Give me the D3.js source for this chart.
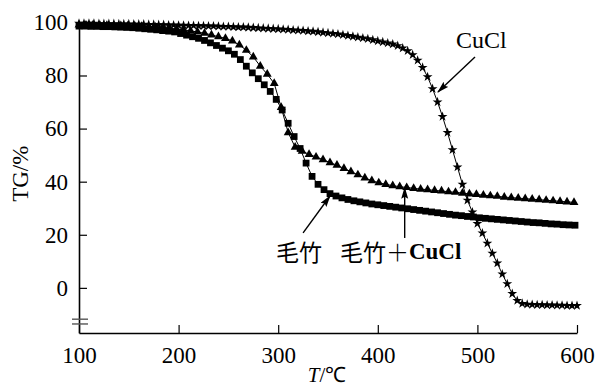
<!DOCTYPE html>
<html>
<head>
<meta charset="utf-8">
<script src="https://cdn.jsdelivr.net/npm/d3@7"></script>
<style>
  body { margin: 0; background: #fff; }
  svg { display: block; }
  text { font-family: 'Liberation Serif', 'Times New Roman', Times, serif; fill: #000; }
</style>
</head>
<body>
<svg id="chart" width="597" height="389"></svg>
<script>
// 毛竹 (squares), [T, TG]
const bambooData = [
  [100, 98.6], [106, 98.6], [112, 98.5], [118, 98.5], [124, 98.4], [130, 98.4],
  [136, 98.3], [142, 98.2], [148, 98.1], [154, 98.0], [160, 97.8], [166, 97.6],
  [172, 97.4], [178, 97.2], [184, 96.9], [190, 96.7], [196, 96.4], [202, 95.8],
  [208, 95.2], [214, 94.6], [220, 94.0], [226, 93.2], [232, 92.3], [238, 91.3],
  [244, 90.3], [250, 89.3], [256, 88.0], [262, 86.0], [268, 83.5], [274, 81.0],
  [280, 78.8], [286, 76.5], [292, 74.0], [298, 71.0], [304, 67.0], [310, 62.0],
  [316, 57.0], [322, 52.5], [328, 47.0], [334, 42.0], [340, 39.0], [346, 37.0],
  [352, 35.5], [358, 34.6], [364, 33.9], [370, 33.3], [376, 32.8], [382, 32.4],
  [388, 32.0], [394, 31.6], [400, 31.3], [406, 31.0], [412, 30.7], [418, 30.4],
  [424, 30.1], [430, 29.8], [436, 29.5], [442, 29.2], [448, 28.9], [454, 28.6],
  [460, 28.3], [466, 28.0], [472, 27.7], [478, 27.4], [484, 27.2], [490, 26.9],
  [496, 26.7], [502, 26.4], [508, 26.2], [514, 26.0], [520, 25.8], [526, 25.6],
  [532, 25.4], [538, 25.2], [544, 25.0], [550, 24.8], [556, 24.6], [562, 24.5],
  [568, 24.3], [574, 24.1], [580, 24.0], [586, 23.8], [592, 23.7], [598, 23.6]
]

// 毛竹+CuCl (triangles)
const mixData = [
  [100, 99.0], [107, 99.0], [114, 99.0], [121, 98.9], [128, 98.9], [135, 98.8],
  [142, 98.8], [149, 98.7], [156, 98.6], [163, 98.5], [170, 98.4], [177, 98.2],
  [184, 98.0], [191, 97.8], [198, 97.5], [205, 97.2], [212, 96.8], [219, 96.4],
  [226, 95.9], [233, 95.3], [240, 94.6], [247, 94.0], [254, 93.0], [261, 91.5],
  [268, 89.5], [275, 87.0], [282, 83.5], [289, 80.5], [296, 77.0], [303, 68.0],
  [310, 58.5], [317, 53.0], [324, 51.5], [331, 50.3], [338, 49.3], [345, 48.3],
  [352, 47.2], [359, 46.2], [366, 45.0], [373, 43.8], [380, 42.6], [387, 41.4],
  [394, 40.4], [401, 39.6], [408, 39.0], [415, 38.5], [422, 38.1], [429, 37.8],
  [436, 37.5], [443, 37.2], [450, 37.0], [457, 36.7], [464, 36.5], [471, 36.2],
  [478, 36.0], [485, 35.7], [492, 35.4], [499, 35.2], [506, 34.9], [513, 34.7],
  [520, 34.5], [527, 34.2], [534, 34.0], [541, 33.8], [548, 33.6], [555, 33.4],
  [562, 33.2], [569, 33.0], [576, 32.8], [583, 32.6], [590, 32.4], [597, 32.2]
]

// CuCl (stars)
const cuclData = [
  [100, 99.6], [105, 99.6], [110, 99.6], [115, 99.6], [120, 99.5], [125, 99.5],
  [130, 99.5], [135, 99.5], [140, 99.4], [145, 99.4], [150, 99.4], [155, 99.3],
  [160, 99.3], [165, 99.3], [170, 99.2], [175, 99.2], [180, 99.1], [185, 99.1],
  [190, 99.0], [195, 99.0], [200, 98.9], [205, 98.9], [210, 98.8], [215, 98.8],
  [220, 98.7], [225, 98.7], [230, 98.6], [235, 98.6], [240, 98.5], [245, 98.4],
  [250, 98.4], [255, 98.3], [260, 98.2], [265, 98.2], [270, 98.1], [275, 98.0],
  [280, 97.9], [285, 97.8], [290, 97.7], [295, 97.6], [300, 97.5], [305, 97.4],
  [310, 97.3], [315, 97.1], [320, 97.0], [325, 96.9], [330, 96.7], [335, 96.6],
  [340, 96.4], [345, 96.2], [350, 96.0], [355, 95.8], [360, 95.6], [365, 95.3],
  [370, 95.0], [375, 94.7], [380, 94.4], [385, 94.1], [390, 93.8], [395, 93.4],
  [400, 93.0], [405, 92.6], [410, 92.2], [415, 91.8], [420, 91.2], [425, 90.3],
  [430, 89.3], [435, 87.8], [440, 85.7], [445, 83.0], [450, 79.5], [455, 75.0],
  [460, 70.0], [465, 64.5], [470, 58.5], [475, 52.0], [480, 45.5], [485, 39.0],
  [490, 33.0], [495, 28.5], [500, 24.2], [505, 20.6], [510, 16.8], [515, 13.0],
  [520, 9.3], [525, 5.2], [530, 1.5], [535, -2.2], [540, -4.8], [545, -5.9],
  [550, -6.2], [555, -6.3], [560, -6.4], [565, -6.4], [570, -6.5], [575, -6.5],
  [580, -6.6], [585, -6.6], [590, -6.7], [595, -6.7], [600, -6.7]
]

const xTicks = [100, 200, 300, 400, 500, 600]
const yTicks = [0, 20, 40, 60, 80, 100]

// label text, arrow tail, arrow tip, label anchor (data units)
const notes = [
  { text: 'CuCl', tail: [497.6, 87], tip: [460.4, 73.8], at: [504, 93.4] },
  { text: '毛竹', tail: [325, 20.7], tip: [352, 34.6], at: [321, 13.9] },
  { text: '毛竹＋CuCl', tail: [427, 18.8], tip: [427, 37.7], at: [362, 13.9] }
]

const width = 597
const height = 389

const x = d3.scaleLinear().domain([100, 600]).range([79, 577])
const y = d3.scaleLinear().domain([-17, 100]).range([333, 22.4])

const svg = d3.select('#chart')

svg.append('rect')
  .attr('width', width)
  .attr('height', height)
  .attr('fill', '#fff')

svg.append('defs')
  .append('marker')
    .attr('id', 'arrow')
    .attr('markerUnits', 'userSpaceOnUse')
    .attr('markerWidth', 12)
    .attr('markerHeight', 8)
    .attr('refX', 11)
    .attr('refY', 3.5)
    .attr('orient', 'auto')
  .append('path')
    .attr('d', 'M0,0 L12,3.5 L0,7 L2,3.5 Z')
    .attr('fill', '#000')

// axes
const xAxis =
  d3.axisBottom(x)
    .tickValues(xTicks)
    .tickSizeInner(-8)
    .tickSizeOuter(0)
    .tickPadding(14)

const yAxis =
  d3.axisLeft(y)
    .tickValues(yTicks)
    .tickSizeInner(-8)
    .tickSizeOuter(0)
    .tickPadding(11)

const gx = svg.append('g')
  .attr('transform', `translate(0, ${y.range()[0]})`)
  .call(xAxis)

const gy = svg.append('g')
  .attr('transform', `translate(${x.range()[0]}, 0)`)
  .call(yAxis)

for (const g of [gx, gy]) {
  g.select('.domain').attr('stroke', '#000').attr('stroke-width', 1.6)
  g.selectAll('.tick line').attr('stroke', '#000').attr('stroke-width', 1.2)
  g.selectAll('.tick text')
    .attr('font-size', 23)
    .attr('fill', '#000')
}

// axis break on y
const x0 = x.range()[0]
for (const v of [-11.8, -13.6]) {
  svg.append('line')
    .attr('x1', x0 - 7).attr('x2', x0 + 9)
    .attr('y1', y(v)).attr('y2', y(v))
    .attr('stroke', '#555')
    .attr('stroke-width', 1.4)
}

// axis titles
svg.append('text')
  .attr('transform', `translate(28, ${y(43)}) rotate(-90)`)
  .attr('text-anchor', 'middle')
  .attr('font-size', 23)
  .text('TG/%')

const xt = svg.append('text')
  .attr('x', (x.range()[0] + x.range()[1]) / 2 - 1)
  .attr('y', 382)
  .attr('text-anchor', 'middle')
  .attr('font-size', 21)
xt.append('tspan').attr('font-style', 'italic').text('T')
xt.append('tspan').text('/℃')

// series
const line = d3.line().x(d => x(d[0])).y(d => y(d[1]))

function drawSeries (data, type, size, cls) {
  const g = svg.append('g').attr('class', cls)
  g.append('path')
    .datum(data)
    .attr('fill', 'none')
    .attr('stroke', '#000')
    .attr('stroke-width', 1)
    .attr('d', line)
  g.selectAll('.marker')
    .data(data)
    .join('path')
      .attr('class', 'marker')
      .attr('transform', d => `translate(${x(d[0])}, ${y(d[1])})`)
      .attr('d', d3.symbol(type, size))
      .attr('fill', '#000')
}

drawSeries(cuclData, d3.symbolStar, 30, 'cucl')
drawSeries(mixData, d3.symbolTriangle, 34, 'mix')
drawSeries(bambooData, d3.symbolSquare, 46, 'bamboo')

// annotations
notes.forEach(n => {
  svg.append('line')
    .attr('x1', x(n.tail[0])).attr('y1', y(n.tail[1]))
    .attr('x2', x(n.tip[0])).attr('y2', y(n.tip[1]))
    .attr('stroke', '#000')
    .attr('stroke-width', 1.4)
    .attr('marker-end', 'url(#arrow)')
})

svg.append('text')
  .attr('x', x(notes[0].at[0]))
  .attr('y', y(notes[0].at[1]))
  .attr('text-anchor', 'middle')
  .attr('dominant-baseline', 'central')
  .attr('font-size', 24)
  .text(notes[0].text)

svg.append('text')
  .attr('x', x(notes[1].at[0]))
  .attr('y', y(notes[1].at[1]))
  .attr('text-anchor', 'middle')
  .attr('dominant-baseline', 'central')
  .attr('font-family', "'Noto Sans CJK SC', sans-serif")
  .style('font-family', "'Noto Sans CJK SC', sans-serif")
  .attr('font-size', 23)
  .text(notes[1].text)

const mixLabel = svg.append('text')
  .attr('x', x(notes[2].at[0]))
  .attr('y', y(notes[2].at[1]))
  .attr('text-anchor', 'start')
  .attr('dominant-baseline', 'central')
  .attr('font-size', 23)
mixLabel.append('tspan')
  .style('font-family', "'Noto Sans CJK SC', sans-serif")
  .text('毛竹')
mixLabel.append('tspan')
  .style('font-family', "'Noto Sans CJK SC', sans-serif")
  .attr('font-weight', 300)
  .text('＋')
mixLabel.append('tspan')
  .attr('font-weight', 'bold')
  .text('CuCl')
</script>
</body>
</html>
